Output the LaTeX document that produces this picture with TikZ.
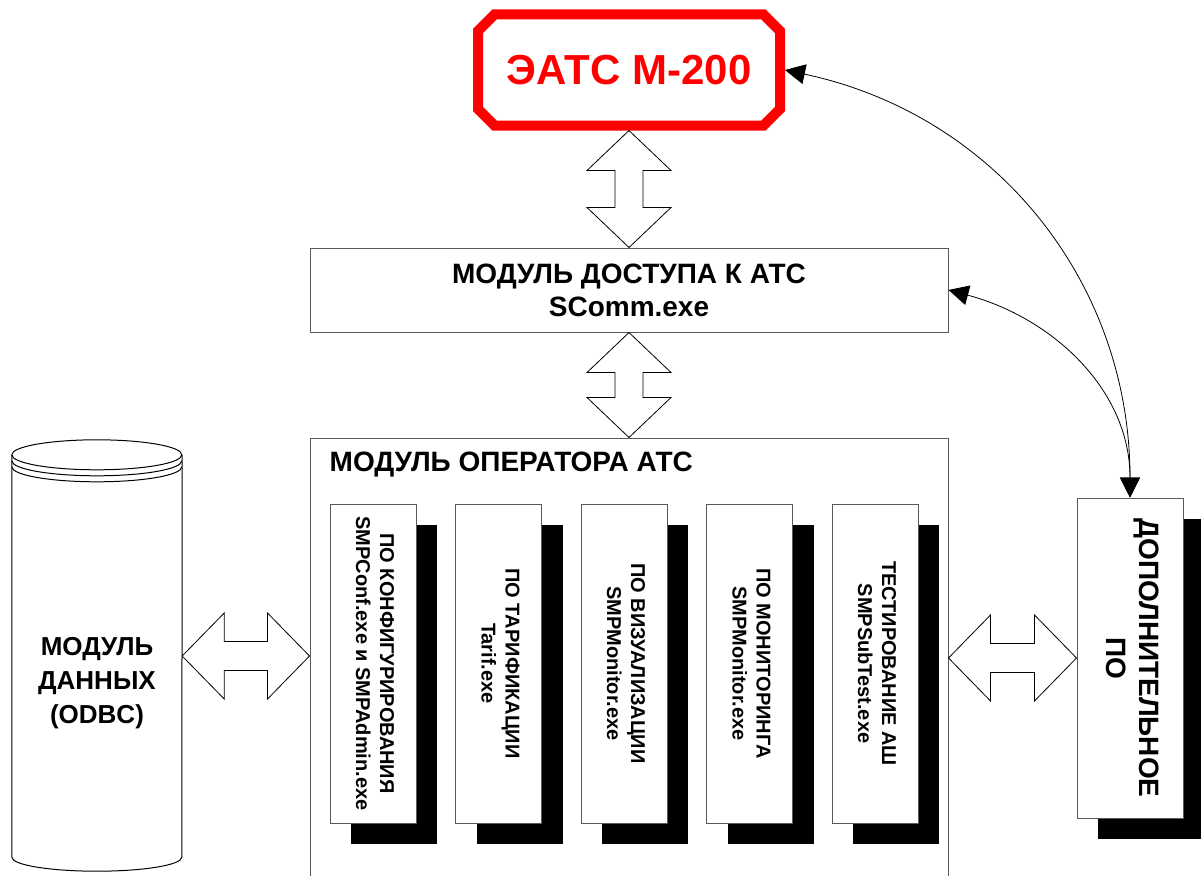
\documentclass[tikz,border=0pt]{standalone}
\usepackage{fontspec}
\setmainfont{Liberation Sans}
\usepackage{graphicx}
\usetikzlibrary{arrows.meta,shapes.misc,shadows,calc}

\newcommand{\vbiarrow}[2]{%
  \draw[biarrow] (#1) -- ++(-42,-40) -- ++(28,0) -- ($(#2)+(-14,40)$)
    -- ++(-28,0) -- (#2) -- ++(42,40) -- ++(-28,0) -- ($(#1)+(14,-40)$)
    -- ++(28,0) -- cycle;}
\newcommand{\hbiarrow}[2]{%
  \draw[biarrow] (#1) -- ++(42,43) -- ++(0,-28.5) -- ($(#2)+(-42,14.5)$)
    -- ++(0,28.5) -- (#2) -- ++(-42,-43) -- ++(0,28.5) -- ($(#1)+(42,-14.5)$)
    -- ++(0,-28.5) -- cycle;}

\begin{document}
\begin{tikzpicture}[x=1pt,y=1pt,>={Triangle[length=20pt,width=20pt]},
  eats/.style={chamfered rectangle,chamfered rectangle xsep=13pt,draw=red,line width=10pt,
    minimum width=302,minimum height=111,text=red,font=\bfseries\fontsize{42}{48}\selectfont},
  modbox/.style={draw=black!65,line width=1pt,fill=white,minimum width=638,align=center,
    font=\bfseries\fontsize{28}{33}\selectfont},
  progbox/.style={draw=black!65,line width=1pt,fill=white,inner sep=0,minimum width=86,minimum height=319,
    drop shadow={shadow xshift=21pt,shadow yshift=-21pt,fill=black,opacity=1},
    font=\bfseries\fontsize{20}{24}\selectfont},
  biarrow/.style={draw=black,fill=white,line width=0.8pt},
  dbline/.style={draw=black,line width=1pt},
  link/.style={<->,line width=0.8pt}]
\useasboundingbox (0,0) rectangle (1201,-875);

\node[eats] (ats) at (629,-70) {ЭАТС М-200};
\node[modbox,minimum height=84] (acc) at (629,-290) {МОДУЛЬ ДОСТУПА К АТС\\SComm.exe};
\node[modbox,minimum height=452] (op) at (629,-664) {};
\node[anchor=west,inner sep=0,font=\bfseries\fontsize{28}{33}\selectfont] (optitle)
  at ([shift={(20,-27)}]op.north west) {МОДУЛЬ ОПЕРАТОРА АТС};

\foreach \n/\a/\b [count=\i from 0] in {conf/ПО КОНФИГУРИРОВАНИЯ/SMPConf.exe и SMPAdmin.exe,
  tarif/ПО ТАРИФИКАЦИИ/Tarif.exe, vis/ПО ВИЗУАЛИЗАЦИИ/SMPMonitor.exe,
  mon/ПО МОНИТОРИНГА/SMPMonitor.exe, test/ТЕСТИРОВАНИЕ АШ/SMPSubTest.exe}
  \node[progbox] (\n) at (373+125.5*\i,-663.5)
    {\rotatebox{-90}{\begin{tabular}{@{}c@{}}\a\\\b\end{tabular}}};

\node[progbox,minimum width=106,minimum height=320,font=\bfseries\fontsize{28}{33}\selectfont] (dop)
  at (1130,-658) {\rotatebox{-90}{\begin{tabular}{@{}c@{}}ДОПОЛНИТЕЛЬНОЕ\\ПО\end{tabular}}};

% database cylinder
\node[inner sep=0,minimum width=170,minimum height=402] (db) at (97,-656) {};
\draw[dbline] (db.north west) arc[start angle=180,end angle=-180,x radius=85,y radius=15];
\draw[dbline] ([yshift=-6]db.north west) arc[start angle=180,end angle=360,x radius=85,y radius=15];
\draw[dbline] ([yshift=-12]db.north west) arc[start angle=180,end angle=360,x radius=85,y radius=15];
\draw[dbline] (db.north west) -- (db.south west)
  arc[start angle=180,end angle=360,x radius=85,y radius=14] -- (db.north east);
\node[align=center,font=\bfseries\fontsize{26}{34}\selectfont] (dbtext) at (97,-683)
  {МОДУЛЬ\\ДАННЫХ\\(ODBC)};

\vbiarrow{ats.south}{acc.north}
\vbiarrow{acc.south}{op.north}
\coordinate (opl) at (op.west |- db.east);
\coordinate (opr) at (op.east |- dop.west);
\hbiarrow{db.east}{opl}
\hbiarrow{opr}{dop.west}

\draw[link] (dop.north) to[out=90,in=-12] (ats.east);
\draw[link] (dop.north) to[out=90,in=-15] (acc.east);
\end{tikzpicture}
\end{document}
